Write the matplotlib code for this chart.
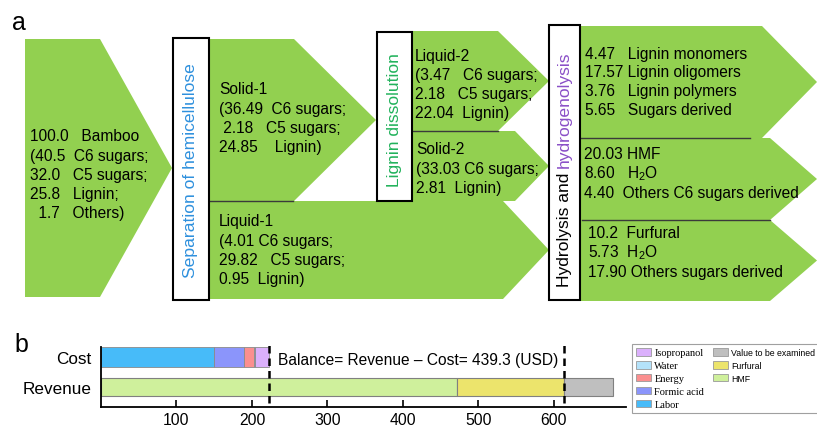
import matplotlib
matplotlib.use("Agg")
import matplotlib.pyplot as plt
from matplotlib.patches import Polygon, Rectangle, Patch

plt.rcParams['font.family'] = ['Liberation Sans', 'DejaVu Sans']

# ---- данные панели b ----
bar_labels = ['Revenue', 'Cost']
cost_items = ['Labor', 'Formic acid', 'Energy', 'Water', 'Isopropanol']
cost_values = [150, 40, 13, 1, 19]
cost_colors = ['#47bbf9', '#8b95fb', '#fb8f8f', '#b4e2fa', '#dbb0fc']
revenue_items = ['HMF', 'Furfural', 'Value to be examined']
revenue_values = [472, 142, 64]
revenue_colors = ['#cff09c', '#ece46c', '#bfbfbf']
x_ticks = [100, 200, 300, 400, 500, 600]
balance_text = 'Balance= Revenue \u2013 Cost= 439.3 (USD)'

# ---- тексты панели a ----
bamboo_lines = ['100.0   Bamboo', '(40.5  C6 sugars;', '32.0   C5 sugars;', '25.8   Lignin;', '  1.7   Others)']
solid1_lines = ['Solid-1', '(36.49  C6 sugars;', ' 2.18   C5 sugars;', '24.85    Lignin)']
liquid1_lines = ['Liquid-1', '(4.01 C6 sugars;', '29.82   C5 sugars;', '0.95  Lignin)']
liquid2_lines = ['Liquid-2', '(3.47   C6 sugars;', '2.18   C5 sugars;', '22.04  Lignin)']
solid2_lines = ['Solid-2', '(33.03 C6 sugars;', '2.81  Lignin)']
lignin_lines = ['4.47   Lignin monomers', '17.57 Lignin oligomers', '3.76   Lignin polymers', '5.65   Sugars derived']
c6_lines = ['20.03 HMF', r'8.60   H$\mathregular{_2}$O', '4.40  Others C6 sugars derived']
c5_lines = ['10.2  Furfural', r'5.73  H$\mathregular{_2}$O', '17.90 Others sugars derived']

green = '#92d050'
fig = plt.figure(figsize=(8.17, 4.27), dpi=100)
ax0 = fig.add_axes([0, 0, 1, 1])
ax0.set_xlim(0, 817)
ax0.set_ylim(427, 0)
ax0.axis('off')


def arrow(x0, x1, xt, y0, y1):
    yt = (y0 + y1) / 2
    ax0.add_patch(Polygon([(x0, y0), (x1, y0), (xt, yt), (x1, y1), (x0, y1)],
                          closed=True, fc=green, ec='none', zorder=1))


def block(x, y0, lines, dy=19.2, size=11.2):
    for i, s in enumerate(lines):
        ax0.text(x, y0 + i * dy, s, ha='left', va='baseline', fontsize=size, zorder=4)


arrow(25, 100, 172, 40, 298)
arrow(210, 294, 376, 40, 202)
arrow(210, 503, 549, 202, 300)
arrow(413, 498, 549, 32, 132)
arrow(413, 515, 549, 132, 202)
arrow(579, 762, 817, 27, 139)
arrow(579, 770, 817, 139, 221)
arrow(579, 770, 817, 221, 302)

for xs, ys in [([210, 293], [202, 202]), ([413, 498], [132, 132]),
               ([579, 750], [139, 139]), ([582, 770], [221, 221])]:
    ax0.plot(xs, ys, color='#3a3a3a', lw=1, zorder=2)

for x, y, w, h in [(173, 39, 36, 262), (377, 33, 35, 169), (549, 26, 31, 275)]:
    ax0.add_patch(Rectangle((x, y), w, h, fc='white', ec='black', lw=1.5, zorder=3))

block(30, 141.5, bamboo_lines)
block(219, 94.5, solid1_lines)
block(219, 226.5, liquid1_lines)
block(415, 60.5, liquid2_lines)
block(416, 154.5, solid2_lines)
block(585, 58.5, lignin_lines, dy=18.8)
block(584, 159.5, c6_lines)
block(588, 238.5, c5_lines)

ax0.text(191, 171, 'Separation of hemicellulose', rotation=90, ha='center', va='center',
         fontsize=12.6, color='#2e90dd', zorder=4)
ax0.text(394.5, 120, 'Lignin dissolution', rotation=90, ha='center', va='center',
         fontsize=12.6, color='#21b25b', zorder=4)
t1 = ax0.text(564.5, 287, 'Hydrolysis and ', rotation=90, ha='center', va='bottom',
              fontsize=12.6, color='black', zorder=4)
ax0.annotate('hydrogenolysis', xy=(0.5, 1), xycoords=t1, rotation=90, ha='center', va='bottom',
             fontsize=12.6, color='#8a4fc7', zorder=4)

ax0.text(12, 30, 'a', fontsize=18)
ax0.text(14, 352, 'b', fontsize=18)

# ---- панель b ----
axb = fig.add_axes([101 / 817, 19 / 427, 525 / 817, 60 / 427])
left = 0
for v, c in zip(cost_values, cost_colors):
    axb.barh(1, v, left=left, height=0.65, color=c, edgecolor='#8a8a8a', lw=0.6)
    left += v
left = 0
for v, c in zip(revenue_values, revenue_colors):
    axb.barh(0, v, left=left, height=0.58, color=c, edgecolor='#808080', lw=0.8)
    left += v
cost_total = sum(cost_values)
revenue_sold = revenue_values[0] + revenue_values[1]
axb.vlines([cost_total, revenue_sold], -0.55, 1.42, colors='black', lw=1.8,
           linestyles=(0, (3, 2)), clip_on=False, zorder=5)
axb.annotate(balance_text, xy=(cost_total, 1), xytext=(6, -1.5), textcoords='offset points',
             ha='left', va='center', fontsize=11.2, annotation_clip=False)

axb.set_xlim(0, 695.6)
axb.set_ylim(-0.667, 1.333)
axb.set_yticks([0, 1], bar_labels, fontsize=12.3)
axb.set_xticks(x_ticks, [str(t) for t in x_ticks], fontsize=11.3)
axb.spines['top'].set_visible(False)
axb.spines['right'].set_visible(False)
for s in ['left', 'bottom']:
    axb.spines[s].set_linewidth(1.3)
axb.tick_params(axis='x', direction='in', length=5, width=1.2, pad=3.5)
axb.tick_params(axis='y', length=0, pad=7)

names = cost_items[::-1] + ['Value to be examined', 'Furfural', 'HMF', '', '']
colors = cost_colors[::-1] + revenue_colors[::-1]
handles = [Patch(facecolor=c, edgecolor='#999999', lw=0.6) for c in colors]
handles += [Patch(facecolor='none', edgecolor='none') for _ in range(2)]
leg = fig.legend(handles, names, loc='upper left', bbox_to_anchor=(632 / 817, 1 - 345 / 427),
                 borderaxespad=0, ncol=2, fontsize=7, fancybox=False, framealpha=1,
                 edgecolor='#a0a0a0', handlelength=1.55, handleheight=0.8, handletextpad=0.3,
                 labelspacing=0.38, columnspacing=0.9, borderpad=0.45)
leg.get_frame().set_linewidth(0.8)
for i, t in enumerate(leg.get_texts()):
    if i < 5:
        t.set_fontfamily('Liberation Serif')
        t.set_fontsize(7.5)
    else:
        t.set_fontsize(6.3)

fig.savefig('out.png', dpi=100)
